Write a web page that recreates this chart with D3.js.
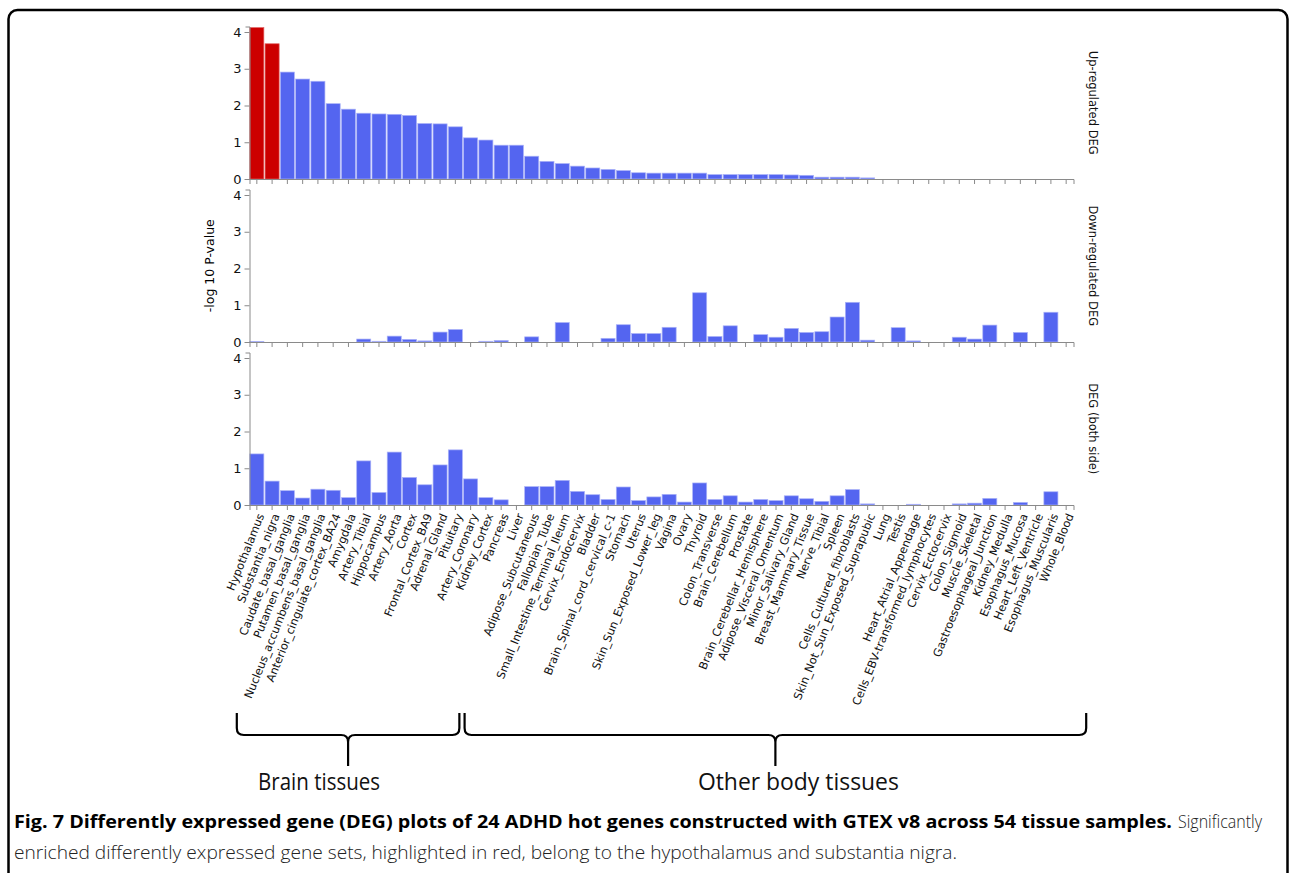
<!DOCTYPE html>
<html>
<head>
<meta charset="utf-8">
<script src="https://cdn.jsdelivr.net/npm/d3@7"></script>
<style>
body { margin: 0; background: #fff; }
.axis path, .axis line { stroke: #8a8a8a; }
.axis text { font-family: "DejaVu Sans", sans-serif; font-size: 13px; fill: #111; }
.tissueLabel { font-family: "DejaVu Sans", sans-serif; font-size: 11.3px; fill: #111; }
.panelLabel { font-family: "DejaVu Sans", sans-serif; font-size: 11.5px; fill: #111; }
</style>
</head>
<body>
<div id="chart"></div>
<script>
// tissues, in the order of the up-regulated ranking
const tissues = [
    "Hypothalamus", "Substantia_nigra", "Caudate_basal_ganglia", "Putamen_basal_ganglia",
    "Nucleus_accumbens_basal_ganglia", "Anterior_cingulate_cortex_BA24", "Amygdala",
    "Artery_Tibial", "Hippocampus", "Artery_Aorta", "Cortex", "Frontal_Cortex_BA9",
    "Adrenal_Gland", "Pituitary", "Artery_Coronary", "Kidney_Cortex", "Pancreas", "Liver",
    "Adipose_Subcutaneous", "Fallopian_Tube", "Small_Intestine_Terminal_Ileum",
    "Cervix_Endocervix", "Bladder", "Brain_Spinal_cord_cervical_c-1", "Stomach", "Uterus",
    "Skin_Sun_Exposed_Lower_leg", "Vagina", "Ovary", "Thyroid", "Colon_Transverse",
    "Brain_Cerebellum", "Prostate", "Brain_Cerebellar_Hemisphere", "Adipose_Visceral_Omentum",
    "Minor_Salivary_Gland", "Breast_Mammary_Tissue", "Nerve_Tibial", "Spleen",
    "Cells_Cultured_fibroblasts", "Skin_Not_Sun_Exposed_Suprapubic", "Lung", "Testis",
    "Heart_Atrial_Appendage", "Cells_EBV-transformed_lymphocytes", "Cervix_Ectocervix",
    "Colon_Sigmoid", "Muscle_Skeletal", "Gastroesophageal_Junction", "Kidney_Medulla",
    "Esophagus_Mucosa", "Heart_Left_Ventricle", "Esophagus_Muscularis", "Whole_Blood"
];

// -log10 p-values
const upDEG = [
    4.12, 3.68, 2.91, 2.72, 2.66, 2.05, 1.90, 1.79, 1.77, 1.76, 1.73, 1.51, 1.50, 1.42,
    1.12, 1.06, 0.92, 0.92, 0.62, 0.48, 0.42, 0.35, 0.30, 0.26, 0.23, 0.17, 0.16, 0.16,
    0.16, 0.16, 0.12, 0.12, 0.12, 0.12, 0.12, 0.11, 0.10, 0.05, 0.05, 0.05, 0.03, 0,
    0, 0, 0, 0, 0, 0, 0, 0, 0, 0, 0, 0
];
const downDEG = [
    0.01, 0, 0, 0, 0, 0, 0, 0.08, 0.02, 0.16, 0.07, 0.03, 0.27, 0.34,
    0, 0.02, 0.04, 0, 0.14, 0, 0.53, 0, 0, 0.10, 0.47, 0.23, 0.23, 0.40,
    0, 1.34, 0.15, 0.44, 0, 0.20, 0.13, 0.37, 0.26, 0.28, 0.68, 1.08, 0.05, 0,
    0.39, 0.03, 0, 0, 0.13, 0.08, 0.46, 0, 0.26, 0, 0.81, 0
];
const bothDEG = [
    1.39, 0.65, 0.39, 0.19, 0.43, 0.40, 0.20, 1.20, 0.34, 1.44, 0.75, 0.55, 1.09, 1.50,
    0.71, 0.20, 0.14, 0, 0.50, 0.50, 0.67, 0.37, 0.28, 0.15, 0.49, 0.12, 0.22, 0.29,
    0.08, 0.60, 0.15, 0.25, 0.08, 0.15, 0.12, 0.25, 0.17, 0.10, 0.25, 0.42, 0.03, 0,
    0, 0.02, 0, 0, 0.03, 0.05, 0.18, 0, 0.07, 0, 0.36, 0
];

const panelNames = ["Up-regulated DEG", "Down-regulated DEG", "DEG (both side)"];
const panelValues = [upDEG, downDEG, bothDEG];
const highlighted = ["Hypothalamus", "Substantia_nigra"];
const yTicks = [0, 1, 2, 3, 4];

const groupNames = ["Brain tissues", "Other body tissues"];
const groupFirst = ["Hypothalamus", "Artery_Coronary"];
const groupLast = ["Pituitary", "Whole_Blood"];

const captionBold = "Fig. 7 Differently expressed gene (DEG) plots of 24 ADHD hot genes constructed with GTEX v8 across 54 tissue samples.";
const captionRest1 = "Significantly";
const captionRest2 = "enriched differently expressed gene sets, highlighted in red, belong to the hypothalamus and substantia nigra.";

const width = 1292;
const height = 873;
const left = 249.5;
const right = 1073.5;
const firstZero = 179;
const panelStep = 163;
const panelHeight = 152.5;

const svg = d3.select("#chart")
    .append("svg")
    .attr("width", width)
    .attr("height", height);

// figure frame
svg.append("rect")
    .attr("x", 8.5).attr("y", 10)
    .attr("width", 1279).attr("height", 900)
    .attr("rx", 9)
    .attr("fill", "none")
    .attr("stroke", "#000")
    .attr("stroke-width", 2.5);

const xScale = d3.scaleBand()
    .domain(tissues)
    .range([left, right])
    .paddingInner(0.08)
    .paddingOuter(0.02);

panelValues.forEach(function(values, i) {
    const zero = firstZero + i * panelStep;
    const yScale = d3.scaleLinear()
        .domain([0, 4.15])
        .range([zero, zero - panelHeight]);

    const g = svg.append("g");

    g.selectAll("rect")
        .data(values)
        .enter()
        .append("rect")
            .attr("x", function(d, j) { return xScale(tissues[j]); })
            .attr("y", function(d) { return yScale(d); })
            .attr("width", xScale.bandwidth())
            .attr("height", function(d) { return zero - yScale(d); })
            .attr("fill", function(d, j) {
                return (i === 0 && highlighted.includes(tissues[j])) ? "#cc0000" : "#5465f0";
            })
            .attr("stroke", function(d, j) {
                return (i === 0 && highlighted.includes(tissues[j])) ? "#e06060" : "#aab2f8";
            })
            .attr("stroke-width", 0.7);

    g.append("g")
        .attr("class", "axis")
        .attr("transform", `translate(0,${zero})`)
        .call(d3.axisBottom(xScale).tickSize(5).tickSizeOuter(5).tickFormat(""));

    g.append("g")
        .attr("class", "axis")
        .attr("transform", `translate(${left},0)`)
        .call(d3.axisLeft(yScale).tickValues(yTicks).tickFormat(d3.format("d"))
            .tickSize(5).tickSizeOuter(4).tickPadding(3));

    g.append("text")
        .attr("class", "panelLabel")
        .attr("transform", `translate(1089,${zero - panelHeight / 2}) rotate(90)`)
        .attr("text-anchor", "middle")
        .text(panelNames[i]);
});

// tissue names under the last panel
const lastZero = firstZero + 2 * panelStep;
svg.append("g")
    .selectAll("text")
    .data(tissues)
    .enter()
    .append("text")
        .attr("class", "tissueLabel")
        .attr("text-anchor", "end")
        .attr("dy", "0.35em")
        .attr("transform", function(d) {
            return `translate(${xScale(d) + xScale.bandwidth() / 2 + 4},${lastZero + 9}) rotate(-68)`;
        })
        .text(function(d) { return d; });

// y axis title
svg.append("text")
    .attr("transform", `translate(214,${firstZero + panelStep - panelHeight / 2}) rotate(-90)`)
    .attr("text-anchor", "middle")
    .style("font-family", "DejaVu Sans, sans-serif")
    .style("font-size", "12.5px")
    .text("-log 10 P-value");

// group braces
function bracePath(x0, x1, yTop, yMid, yTip) {
    const xm = (x0 + x1) / 2;
    const r = 7;
    return `M${x0},${yTop} L${x0},${yMid - r} Q${x0},${yMid} ${x0 + r},${yMid} ` +
        `L${xm - r},${yMid} Q${xm},${yMid} ${xm},${yMid + r} L${xm},${yTip} ` +
        `M${xm},${yMid + r} Q${xm},${yMid} ${xm + r},${yMid} ` +
        `L${x1 - r},${yMid} Q${x1},${yMid} ${x1},${yMid - r} L${x1},${yTop}`;
}

const braceX0 = [xScale(groupFirst[0]) - 13, xScale(groupFirst[1]) + 1];
const braceX1 = [xScale(groupLast[0]) + xScale.bandwidth() - 3, xScale(groupLast[1]) + xScale.bandwidth() + 13];
const textShift = [-29, 23];
const textWidth = [122, 201];

groupNames.forEach(function(name, i) {
    svg.append("path")
        .attr("d", bracePath(braceX0[i], braceX1[i], 713, 735, 766))
        .attr("fill", "none")
        .attr("stroke", "#000")
        .attr("stroke-width", 2.2);

    svg.append("text")
        .attr("x", (braceX0[i] + braceX1[i]) / 2 + textShift[i])
        .attr("y", 790)
        .attr("text-anchor", "middle")
        .attr("textLength", textWidth[i])
        .attr("lengthAdjust", "spacingAndGlyphs")
        .style("font-family", "Open Sans, sans-serif")
        .style("font-size", "23px")
        .style("fill", "#111")
        .text(name);
});

// caption
svg.append("text")
    .attr("x", 14).attr("y", 828)
    .attr("textLength", 1158)
    .attr("lengthAdjust", "spacingAndGlyphs")
    .style("font-family", "Open Sans, sans-serif")
    .style("font-size", "17.5px")
    .style("font-weight", "bold")
    .text(captionBold);

svg.append("text")
    .attr("x", 1178).attr("y", 828)
    .attr("textLength", 84)
    .attr("lengthAdjust", "spacingAndGlyphs")
    .style("font-family", "Open Sans, sans-serif")
    .style("font-size", "17.5px")
    .style("font-weight", "300")
    .style("fill", "#222")
    .text(captionRest1);

svg.append("text")
    .attr("x", 14).attr("y", 859)
    .attr("textLength", 943)
    .attr("lengthAdjust", "spacingAndGlyphs")
    .style("font-family", "Open Sans, sans-serif")
    .style("font-size", "17.5px")
    .style("font-weight", "300")
    .style("fill", "#222")
    .text(captionRest2);
</script>
</body>
</html>
